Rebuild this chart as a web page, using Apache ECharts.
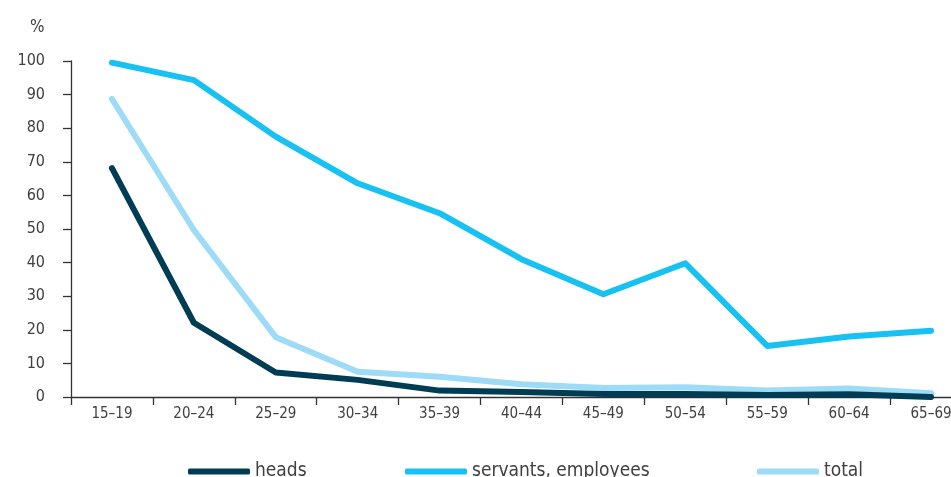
<!DOCTYPE html>
<html><head><meta charset="utf-8">
<script src="https://cdn.jsdelivr.net/npm/echarts@6/dist/echarts.min.js"></script>
<style>html,body{margin:0;padding:0;background:#fff;overflow:hidden;width:951px;height:477px}#c{width:972px;height:477px}</style>
</head><body><div id="c"></div>
<script>
var categories = ['15–19','20–24','25–29','30–34','35–39','40–44','45–49','50–54','55–59','60–64','65–69'];
var heads = [68.1, 22.1, 7.3, 5.1, 1.9, 1.5, 0.9, 0.9, 0.6, 0.8, 0];
var servants = [99.5, 94.3, 77.5, 63.6, 54.7, 41.0, 30.6, 39.8, 15.2, 18.0, 19.7];
var total = [88.7, 49.7, 17.8, 7.5, 6.0, 3.8, 2.7, 2.9, 1.9, 2.5, 1.1];
var yTicks = [0, 10, 20, 30, 40, 50, 60, 70, 80, 90, 100];

var FONT = '"DejaVu Sans Condensed", "Liberation Sans Narrow", sans-serif';
var TXT = '#404040';
var cHeads = '#003d55', cServ = '#17c1f1', cTotal = '#9edbf6';

function legendFor(name, color, left) {
  return {
    data: [name], left: left, top: 457, orient: 'horizontal',
    icon: 'roundRect', itemWidth: 62, itemHeight: 6, itemGap: 14,
    itemStyle: { color: color, borderWidth: 0 },
    textStyle: { fontFamily: FONT, fontSize: 19, color: TXT, padding: [0,0,0,0] },
    selectedMode: false
  };
}

var chart = echarts.init(document.getElementById('c'), null, { renderer: 'canvas' });
chart.setOption({
  animation: false,
  title: { text: '%', left: 25, top: 14, textStyle: { fontFamily: FONT, fontSize: 17, fontWeight: 'normal', color: TXT } },
  grid: { left: 71, right: 0, top: 61, bottom: 80, containLabel: false },
  legend: [
    legendFor('heads', cHeads, 183),
    legendFor('servants, employees', cServ, 400),
    legendFor('total', cTotal, 752)
  ],
  xAxis: {
    type: 'category', data: categories, boundaryGap: true,
    axisLine: { lineStyle: { color: '#333', width: 1.3 } },
    axisTick: { show: true, alignWithLabel: false, length: 8, lineStyle: { color: '#333', width: 1.3 } },
    axisLabel: { fontFamily: FONT, fontSize: 15, color: TXT, margin: 10, interval: 0 }
  },
  yAxis: {
    type: 'value', min: 0, max: 100, interval: 10,
    splitLine: { show: false },
    axisLine: { show: true, lineStyle: { color: '#333', width: 1.3 } },
    axisTick: { show: true, length: 8, lineStyle: { color: '#333', width: 1.3 } },
    axisLabel: { fontFamily: FONT, fontSize: 16, color: TXT, margin: 26,
      formatter: function (v) { return yTicks.indexOf(v) >= 0 ? String(v) : ''; } }
  },
  series: [
    { name: 'heads', type: 'line', data: heads, symbol: 'none', z: 4,
      lineStyle: { color: cHeads, width: 6, cap: 'round', join: 'round' }, itemStyle: { color: cHeads } },
    { name: 'servants, employees', type: 'line', data: servants, symbol: 'none', z: 2,
      lineStyle: { color: cServ, width: 6, cap: 'round', join: 'round' }, itemStyle: { color: cServ } },
    { name: 'total', type: 'line', data: total, symbol: 'none', z: 3,
      lineStyle: { color: cTotal, width: 6, cap: 'round', join: 'round' }, itemStyle: { color: cTotal } }
  ]
});
</script></body></html>
